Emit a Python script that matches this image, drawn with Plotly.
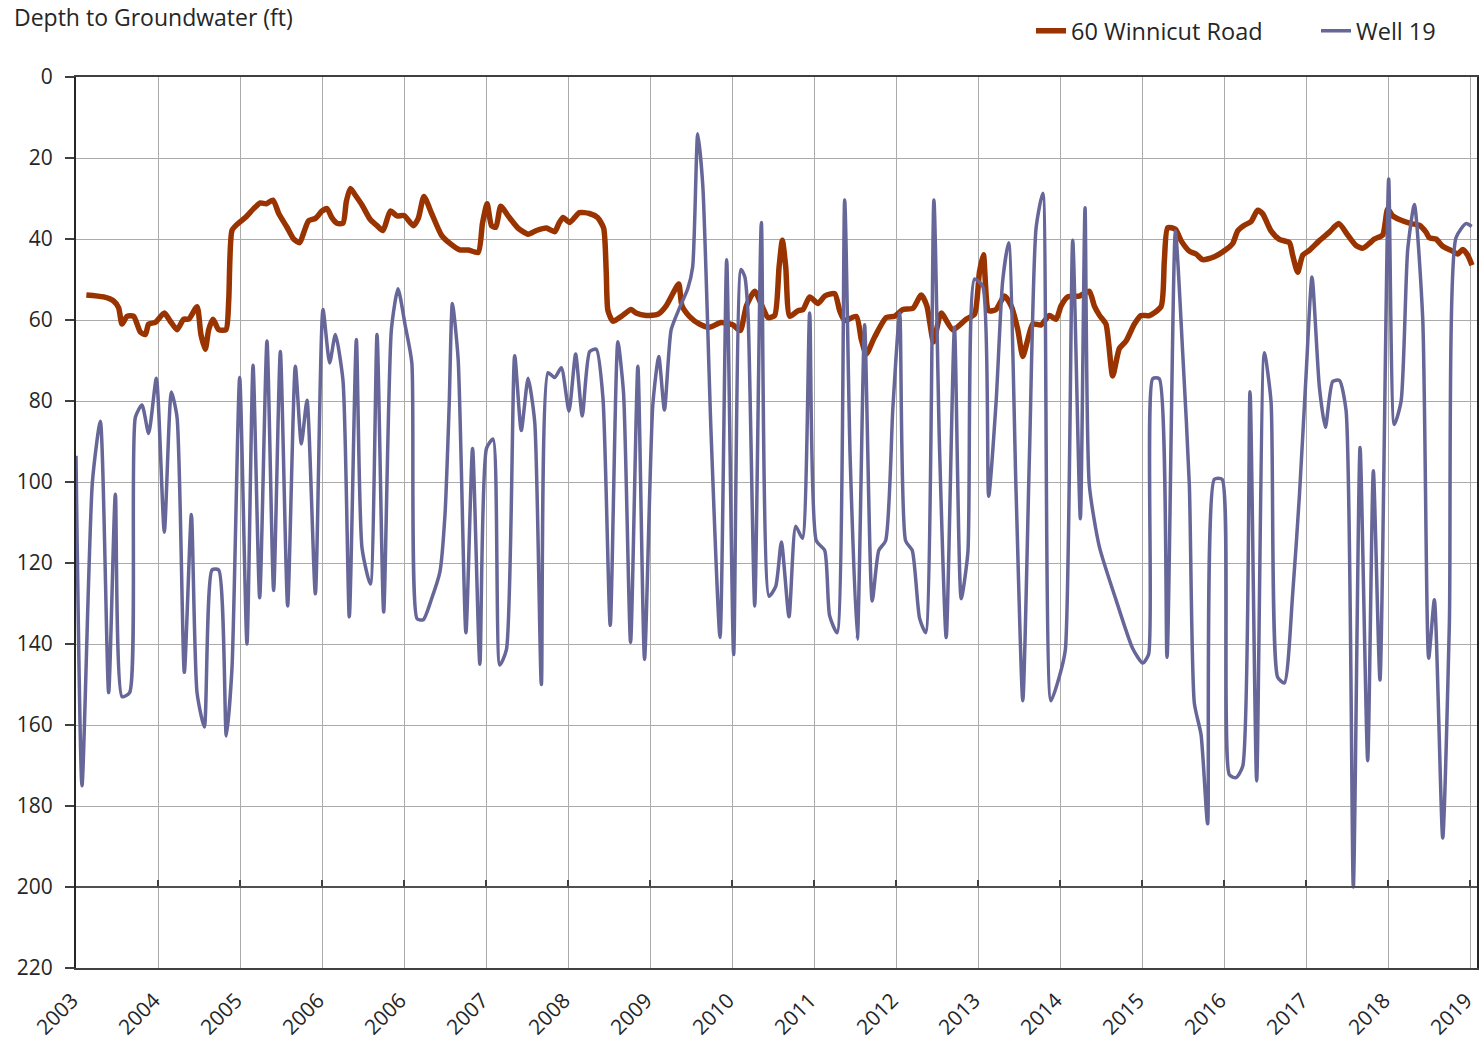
import plotly.graph_objects as go

# Tick labels along the time axis (one per major interval)
tick_labels = ["2003", "2004", "2005", "2006", "2006", "2007", "2008", "2009", "2010",
               "2011", "2012", "2013", "2014", "2015", "2016", "2017", "2018", "2019"]

# 60 Winnicut Road: position along the axis (in major-interval units) and depth (ft)
winnicut_t = [0.126, 0.337, 0.459, 0.52, 0.561, 0.622, 0.703, 0.785, 0.846, 0.886, 0.967,
              1.077, 1.15, 1.232, 1.313, 1.374, 1.476, 1.524, 1.577, 1.618, 1.671, 1.74,
              1.829, 1.862, 1.902, 1.963, 2.065, 2.167, 2.248, 2.321, 2.402, 2.472, 2.573,
              2.654, 2.728, 2.776, 2.837, 2.919, 3.0, 3.061, 3.12, 3.183, 3.256, 3.297,
              3.346, 3.407, 3.488, 3.589, 3.671, 3.744, 3.833, 3.915, 4.0, 4.114, 4.174,
              4.243, 4.337, 4.458, 4.56, 4.68, 4.783, 4.905, 4.957, 5.014, 5.067, 5.12,
              5.18, 5.27, 5.39, 5.513, 5.615, 5.736, 5.838, 5.89, 5.94, 6.02, 6.14, 6.26,
              6.36, 6.434, 6.466, 6.487, 6.548, 6.65, 6.77, 6.83, 6.953, 7.095, 7.197,
              7.278, 7.35, 7.39, 7.48, 7.602, 7.724, 7.866, 8.008, 8.1, 8.176, 8.277,
              8.358, 8.44, 8.52, 8.574, 8.614, 8.655, 8.704, 8.805, 8.866, 8.947, 9.049,
              9.13, 9.252, 9.313, 9.374, 9.516, 9.577, 9.637, 9.739, 9.881, 9.982, 10.084,
              10.206, 10.307, 10.376, 10.458, 10.55, 10.693, 10.855, 10.957, 11.018,
              11.066, 11.13, 11.22, 11.322, 11.404, 11.485, 11.546, 11.607, 11.668,
              11.769, 11.87, 11.952, 12.013, 12.094, 12.236, 12.357, 12.418, 12.48, 12.56,
              12.642, 12.724, 12.805, 12.907, 12.988, 13.09, 13.232, 13.272, 13.313,
              13.407, 13.476, 13.577, 13.659, 13.74, 13.882, 14.024, 14.106, 14.167,
              14.248, 14.33, 14.41, 14.472, 14.573, 14.675, 14.797, 14.837, 14.898, 14.96,
              15.04, 15.163, 15.285, 15.398, 15.508, 15.61, 15.69, 15.772, 15.833, 15.935,
              15.996, 16.057, 16.138, 16.28, 16.382, 16.463, 16.504, 16.585, 16.667,
              16.768, 16.85, 16.91, 16.972, 17.024]
winnicut_depth = [53.8, 54.3, 55.3, 57, 61, 59.1, 59.1, 63, 63.6, 61, 60.6,
                  58.3, 60.3, 62.4, 59.8, 59.8, 56.7, 63.6, 67.2, 62.4, 59.8, 62.4,
                  62.4, 55.3, 37.9, 36.4, 34.7, 32.5, 31.1, 31.3, 30.4, 33.7, 37.1,
                  40, 40.9, 38.5, 35.5, 34.9, 33.1, 32.5, 34.7, 36.1, 36.1, 30.7,
                  27.5, 29.2, 31.6, 35.2, 36.7, 37.9, 33.1, 34.3, 34.2, 36.7, 34.9,
                  29.5, 33.7, 39.1, 41.1, 42.7, 42.7, 43.3, 36.1, 31.3, 36.7, 37.1,
                  31.9, 34.3, 37.3, 38.8, 37.9, 37.3, 38.2, 36.1, 34.7, 35.9, 33.5, 33.7,
                  34.7, 37.3, 48.1, 57.7, 60.3, 59.1, 57.4, 58.3, 58.9, 58.6, 56.5,
                  53.5, 51.1, 56.5, 59.1, 61, 61.8, 60.6, 61.2, 62.6, 56.5, 52.9,
                  56.2, 59.4, 58.9, 46.9, 40.3, 46.9, 59.1, 57.7, 57.4, 54.3, 55.9,
                  54.1, 53.5, 57.7, 60.1, 59.1, 64.8, 68.4, 64.2, 59.4, 59.1, 57.4,
                  57.1, 53.8, 56.5, 65.4, 58.3, 62.4, 59.8, 58.6, 48.1,
                  43.9, 57.7, 57.4, 54.1, 56.5, 62.4, 69, 64.8, 61,
                  61.2, 58.9, 59.8, 56.5, 54.3, 54.1, 52.9, 56.5, 58.8, 61,
                  73.8, 67, 65.2, 61, 58.9, 58.9, 56.7, 45.4, 37.2,
                  37.6, 40.4, 43, 43.7, 45.1, 44.4, 42.6, 41.1, 38,
                  36.6, 35.7, 32.9, 33.8, 38, 40.1, 40.9, 44, 48.2, 44,
                  42.8, 40.4, 38.3, 36.2, 39, 41.6, 42.3, 41.1, 40, 39,
                  32.6, 34.3, 35.2, 36.2, 36.6, 38.3, 39.7, 40, 41.8,
                  42.8, 43.7, 42.6, 44, 46.5]

# Well 19: position along the axis (in major-interval units) and depth (ft)
well19_t = [0.0, 0.073, 0.2, 0.297, 0.398, 0.48, 0.561, 0.654, 0.724, 0.805, 0.886, 0.98,
            1.077, 1.163, 1.232, 1.321, 1.407, 1.476, 1.565, 1.659, 1.74, 1.833, 1.902,
            1.996, 2.085, 2.159, 2.24, 2.329, 2.41, 2.492, 2.581, 2.675, 2.748, 2.817,
            2.919, 3.012, 3.093, 3.163, 3.256, 3.333, 3.419, 3.488, 3.589, 3.671, 3.752,
            3.846, 3.927, 4.016, 4.095, 4.16, 4.235, 4.337, 4.438, 4.5, 4.55, 4.59, 4.66,
            4.755, 4.836, 4.925, 5.006, 5.087, 5.168, 5.249, 5.35, 5.43, 5.513, 5.594,
            5.675, 5.757, 5.838, 5.919, 6.012, 6.093, 6.174, 6.264, 6.345, 6.426, 6.515,
            6.608, 6.677, 6.763, 6.852, 6.933, 7.034, 7.107, 7.176, 7.258, 7.36, 7.46,
            7.52, 7.582, 7.643, 7.744, 7.854, 7.935, 8.02, 8.11, 8.156, 8.196, 8.277,
            8.358, 8.452, 8.533, 8.602, 8.695, 8.777, 8.858, 8.947, 9.028, 9.13, 9.19,
            9.28, 9.374, 9.44, 9.528, 9.617, 9.71, 9.79, 9.873, 9.962, 10.045, 10.117,
            10.198, 10.287, 10.36, 10.462, 10.53, 10.612, 10.713, 10.795, 10.876, 10.957,
            11.058, 11.13, 11.22, 11.3, 11.373, 11.465, 11.546, 11.627, 11.708, 11.79,
            11.89, 11.992, 12.065, 12.155, 12.248, 12.305, 12.357, 12.48, 12.683, 12.886,
            13.008, 13.08, 13.13, 13.21, 13.305, 13.407, 13.496, 13.577, 13.638, 13.72,
            13.8, 13.882, 13.976, 14.065, 14.146, 14.228, 14.317, 14.398, 14.492, 14.573,
            14.654, 14.736, 14.837, 14.919, 15.0, 15.073, 15.163, 15.236, 15.325, 15.407,
            15.488, 15.577, 15.659, 15.752, 15.821, 15.902, 16.008, 16.077, 16.159, 16.24,
            16.321, 16.423, 16.496, 16.565, 16.667, 16.748, 16.829, 16.951, 17.02]
well19_depth = [93.5, 175, 100, 85, 152, 103, 153, 152, 84, 81, 88, 74.4,
                112.4, 77.8, 84, 147, 108, 152, 160.5, 121.7, 121.7, 162.7, 146,
                74.2, 140, 71.2, 128.6, 65.2, 126.8, 67.8, 130.6, 71.4, 90.6, 79.8,
                127.6, 57.4, 70.6, 63.6, 75, 133.3, 64.8, 116.3, 125.2, 63.6, 132.1,
                62.4, 52.3, 61.5, 70.5, 133.8, 134, 128.8, 122.2, 108, 81.6, 55.9, 69.6,
                137.2, 91.7, 145, 91.7, 89.4, 145.2, 141.4, 68.8, 87.3, 74.4, 85.2,
                150, 73, 74.2, 71.8, 82.5, 68.4, 83.7, 67.8, 67.2, 79.2, 135.4,
                65.4, 78, 139.6, 71.4, 143.8, 81, 69, 82.2, 62.4, 57, 52.3,
                46.9, 14, 26.6, 87.6, 138.4, 45.1, 142.6, 47.5, 49.3, 58.9, 130.6,
                35.9, 128.2, 125.8, 114.8, 133.3, 110.9, 113.9, 58.3, 114.5, 116.9, 133,
                137.2, 30.4, 93.5, 138.8, 61.2, 129.4, 116.9, 114.5, 81.6, 58.3, 114.5,
                116.9, 133.6, 137.2, 30.4, 91.1, 138.4, 61.8, 128.8, 117.5, 49.9,
                51.7, 103.5, 80.4, 50.5, 40.9, 103.1, 154, 93.5, 37.3, 28.7,
                154, 148, 141.4, 40.3, 109.1, 32.3, 100.7, 116, 129.1, 141.1,
                144.7, 142.6, 74.5, 74.5, 143.3, 38, 68.1, 100.7, 154.6, 162.4,
                184.4, 99.3, 99.3, 172.3, 173, 170.2, 77.7, 173.8, 68.1, 80.1,
                148.2, 149.6, 127.7, 103.5, 73.8, 49.4, 76.6, 86.5, 75.2, 74.9,
                82.3, 200, 91.5, 168.8, 97.2, 148.9, 25.2, 85.8, 80.1, 42.6,
                31.5, 59.6, 143.5, 129.1, 187.9, 134.8, 39.7, 36.2, 36.9]

y_ticks = list(range(0, 221, 20))

FONT = "Open Sans"
TEXT = "#262626"
GRID = "#ABABAB"

fig = go.Figure()
fig.add_trace(go.Scatter(
    x=winnicut_t, y=winnicut_depth, name="60 Winnicut Road", mode="lines",
    line=dict(color="#993300", width=5.5, shape="spline", smoothing=0.6),
))
fig.add_trace(go.Scatter(
    x=well19_t, y=well19_depth, name="Well 19", mode="lines",
    line=dict(color="#666699", width=3.5, shape="spline", smoothing=0.6),
))
# empty trace that carries the secondary (reference) x-axis drawn at 200 ft
fig.add_trace(go.Scatter(x=[None], y=[None], xaxis="x2", showlegend=False, hoverinfo="skip"))

x_range = [0, 17.085]
tick_pos = list(range(len(tick_labels)))

fig.update_layout(
    width=1479, height=1042,
    margin=dict(l=76, r=2, t=77, b=74, autoexpand=False),
    paper_bgcolor="white", plot_bgcolor="white",
    font=dict(family=FONT, size=21, color=TEXT),
    title=dict(text="Depth to Groundwater (ft)", x=14 / 1479, xanchor="left",
               xref="container", y=1 - 18 / 1042, yanchor="middle", yref="container",
               font=dict(family=FONT, size=23, color=TEXT)),
    showlegend=True,
    legend=dict(orientation="h", x=1 + 124 / 1401, xref="paper", xanchor="right",
                y=1 - 31 / 1042, yref="container", yanchor="middle",
                font=dict(family=FONT, size=23.5, color=TEXT),
                bgcolor="rgba(0,0,0,0)", itemwidth=30, entrywidth=240,
                tracegroupgap=0),
    xaxis=dict(range=x_range, tickmode="array", tickvals=tick_pos, ticktext=tick_labels,
               tickangle=-45, showgrid=True, gridcolor=GRID, gridwidth=1,
               showline=True, linecolor="#404040", linewidth=2, mirror=True,
               ticks="", zeroline=False, tickfont=dict(size=21, color=TEXT),
               ticklabelstandoff=10, ticklabelshift=-4, ticklabeloverflow="allow"),
    xaxis2=dict(range=x_range, overlaying="x", anchor="free", position=20 / 220,
                side="bottom", tickmode="array", tickvals=tick_pos, showticklabels=False,
                ticks="inside", ticklen=6, tickwidth=1.5, tickcolor="#404040",
                showline=True, linecolor="#505050", linewidth=2, showgrid=False,
                zeroline=False),
    yaxis=dict(range=[220, 0], tickmode="array", tickvals=y_ticks, showgrid=True,
               gridcolor=GRID, gridwidth=1, showline=True, linecolor="#262626",
               linewidth=2, mirror=True, ticks="outside", ticklen=9, tickwidth=1.5,
               tickcolor="#404040", zeroline=False, tickfont=dict(size=21, color=TEXT),
               ticklabelstandoff=8),
)

fig.write_html("out.html")
